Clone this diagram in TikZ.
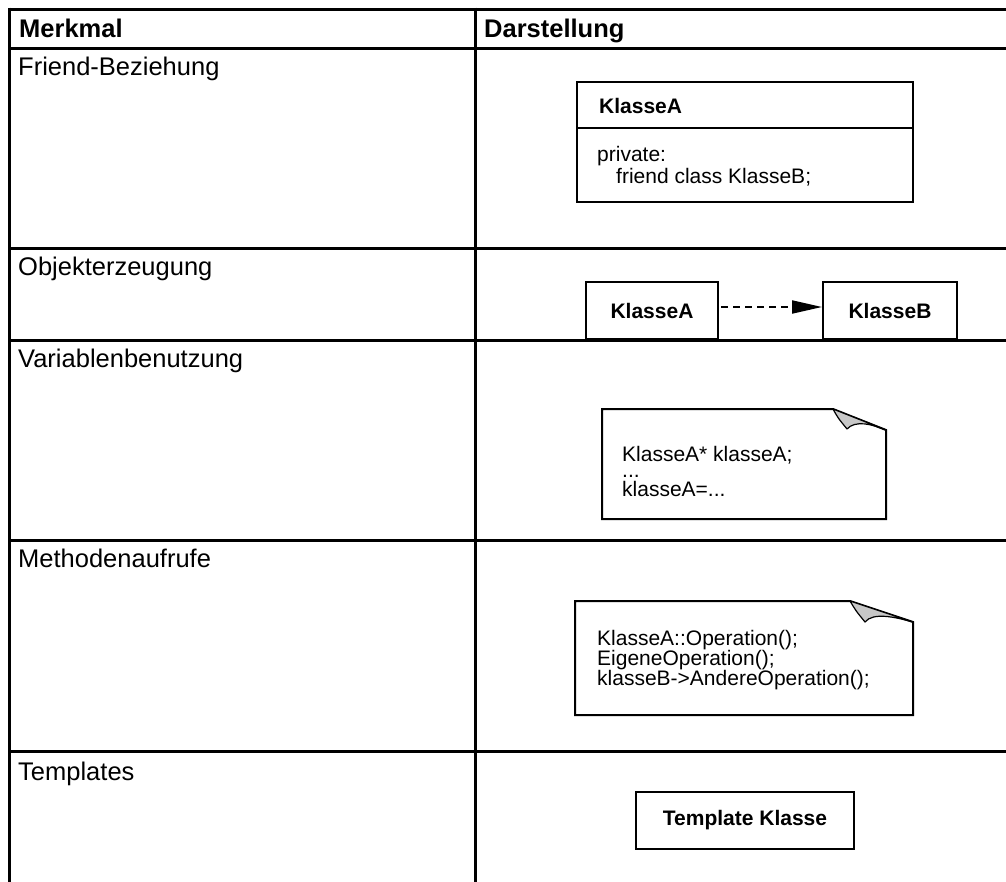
\documentclass[tikz,border=0pt]{standalone}
\usepackage{fontspec}
\setmainfont{Liberation Sans}
\usetikzlibrary{arrows.meta}
\begin{document}
\begin{tikzpicture}[x=1pt,y=-1pt,
  rule/.style={line width=3pt},
  cell/.style={anchor=base west, inner sep=0pt, font=\fontsize{25.5}{30}\selectfont},
  head/.style={anchor=base west, inner sep=0pt, font=\fontsize{25.5}{30}\selectfont\bfseries},
  umlbox/.style={draw, line width=2pt, inner sep=0pt, font=\fontsize{21}{25}\selectfont\bfseries},
  boxtitle/.style={anchor=base west, inner sep=0pt, font=\fontsize{21}{25}\selectfont\bfseries},
  code/.style={anchor=base west, inner sep=0pt, font=\fontsize{21}{25}\selectfont},
  notebody/.style={draw, line width=2pt, fill=white, line join=miter},
  fold/.style={draw, line width=1.2pt, fill=black!22, line join=round},
  dep/.style={line width=2pt, dash pattern=on 7pt off 5pt, -{Triangle[length=30pt,width=13pt]}},
]
\useasboundingbox (0,0) rectangle (1006,881);

% table rules
\draw[rule] (9,9) -- (1010,9);
\draw[rule] (9,48) -- (1010,48);
\draw[rule] (9,248) -- (1010,248);
\draw[rule] (9,340) -- (1010,340);
\draw[rule] (9,540) -- (1010,540);
\draw[rule] (9,751) -- (1010,751);
\draw[rule] (9,7.5) -- (9,890);
\draw[rule] (475,7.5) -- (475,890);

% header and row labels
\node[head] (hMerkmal) at (19,37) {Merkmal};
\node[head] (hDarst) at (484,37) {Darstellung};
\node[cell] (rFriend) at (18,75) {Friend-Beziehung};
\node[cell] (rObj) at (18,275) {Objekterzeugung};
\node[cell] (rVar) at (18,367) {Variablenbenutzung};
\node[cell] (rMeth) at (18,567) {Methodenaufrufe};
\node[cell] (rTpl) at (18,780) {Templates};

% friend relation: class box with two compartments
\node[umlbox, minimum width=336pt, minimum height=120pt] (cls) at (745,142) {};
\draw[line width=2pt] (cls.west |- 0,128) -- (cls.east |- 0,128);
\node[boxtitle] (clsName) at (599,113) {KlasseA};
\node[code] (clsL1) at (597,161) {private:};
\node[code] (clsL2) at (616,183) {friend class KlasseB;};

% object creation: dependency arrow
\node[umlbox, minimum width=132pt, minimum height=57pt] (ka) at (652,310.5) {KlasseA};
\node[umlbox, minimum width=134pt, minimum height=57pt] (kb) at (890,310.5) {KlasseB};
\draw[dep] ([xshift=2pt,yshift=3.5pt]ka.east) -- ([yshift=3.5pt]kb.west);

% variable usage note
\draw[notebody] (602,409) -- (833,409) -- (886,430) -- (886,519) -- (602,519) -- cycle;
\filldraw[fold] (833,409) .. controls (838,418) .. (847,429) .. controls (855,420) and (872,424) .. (886,430) -- cycle;
\node[code] (v1) at (622,461) {KlasseA* klasseA;};
\node[code] (v2) at (622,477) {...};
\node[code] (v3) at (622,496) {klasseA=...};

% method calls note
\draw[notebody] (575,601) -- (850,601) -- (913,622) -- (913,715) -- (575,715) -- cycle;
\filldraw[fold] (850,601) .. controls (856,611) .. (865,622) .. controls (873,612) and (895,617) .. (913,622) -- cycle;
\node[code] (m1) at (597,645) {KlasseA::Operation();};
\node[code] (m2) at (597,665) {EigeneOperation();};
\node[code] (m3) at (597,685) {klasseB->AndereOperation();};

% templates
\node[umlbox, minimum width=218pt, minimum height=57pt] (tpl) at (745,820.5) {Template Klasse};
\end{tikzpicture}
\end{document}
